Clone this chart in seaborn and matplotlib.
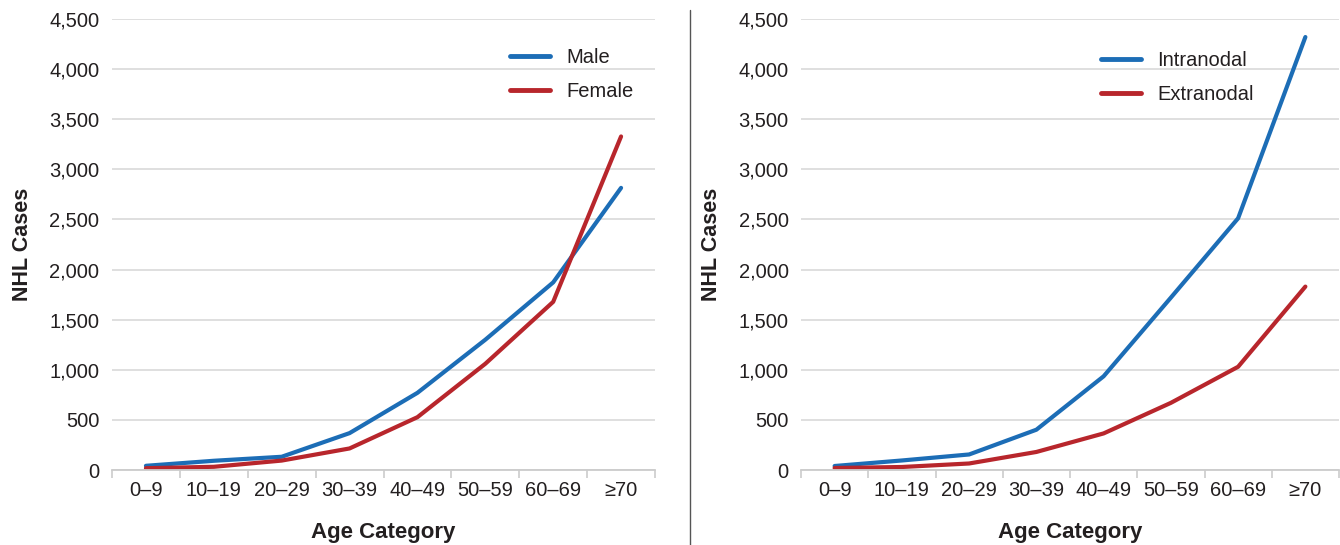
import pandas as pd
import seaborn as sns
import matplotlib.pyplot as plt
from matplotlib.ticker import FuncFormatter, FixedLocator

# data
ages = ["0\u20139", "10\u201319", "20\u201329", "30\u201339", "40\u201349", "50\u201359", "60\u201369", "\u226570"]
male = [42, 92, 132, 368, 770, 1300, 1872, 2815]
female = [18, 32, 94, 215, 527, 1060, 1678, 3328]
intranodal = [40, 95, 155, 402, 935, 1720, 2512, 4320]
extranodal = [20, 30, 65, 180, 365, 670, 1030, 1830]

blue = "#1c6db6"
red = "#b8262c"

sns.set_theme(style="white")
plt.rcParams["font.family"] = ["Liberation Sans", "DejaVu Sans"]


def long_df(names, series):
    rows = []
    for name, vals in zip(names, series):
        for a, v in zip(ages, vals):
            rows.append({"Age": a, "Cases": v, "Group": name})
    return pd.DataFrame(rows)


fig = plt.figure(figsize=(13.4, 5.45), dpi=100)
ax1 = fig.add_axes([112 / 1340, 1 - 470 / 545, 543 / 1340, 451 / 545])
ax2 = fig.add_axes([801 / 1340, 1 - 470 / 545, 538 / 1340, 451 / 545])

panels = [
    (ax1, long_df(["Male", "Female"], [male, female]), (0.733, 0.935)),
    (ax2, long_df(["Intranodal", "Extranodal"], [intranodal, extranodal]), (0.558, 0.93)),
]

for ax, df, loc in panels:
    sns.lineplot(data=df, x="Age", y="Cases", hue="Group",
                 palette=[blue, red], linewidth=3, ax=ax,
                 sort=False, solid_capstyle="round")
    ax.set_xlim(-0.5, 7.5)
    ax.set_ylim(0, 4500)
    ax.set_yticks(range(0, 4501, 500))
    ax.yaxis.set_major_formatter(FuncFormatter(lambda v, p: f"{int(v):,}"))
    ax.yaxis.grid(True, color="#dcdcdc", linewidth=1.3)
    ax.set_axisbelow(True)
    for s in ["top", "right", "left"]:
        ax.spines[s].set_visible(False)
    ax.spines["bottom"].set_color("#cccccc")
    ax.spines["bottom"].set_linewidth(1.3)
    ax.set_xticks(range(len(ages)))
    ax.set_xticklabels(ages)
    ax.xaxis.set_minor_locator(FixedLocator([i - 0.5 for i in range(len(ages) + 1)]))
    ax.tick_params(axis="x", which="major", length=0, pad=8,
                   labelsize=14.5, labelcolor="#231f20")
    ax.tick_params(axis="x", which="minor", bottom=True, length=6,
                   width=1.2, color="#cccccc")
    ax.tick_params(axis="y", length=0, pad=9, labelsize=14.5, labelcolor="#231f20")
    ax.set_xlabel("Age Category", fontsize=16, fontweight="bold",
                  color="#231f20", labelpad=16)
    ax.set_ylabel("NHL Cases", fontsize=15.5, fontweight="bold",
                  color="#231f20", labelpad=12)
    leg = ax.legend(loc="upper left", bbox_to_anchor=loc, frameon=False,
                    fontsize=14.5, handlelength=2.0, handletextpad=0.8,
                    labelspacing=0.75, borderpad=0, borderaxespad=0, title=None)
    for t in leg.get_texts():
        t.set_color("#231f20")
    for line in leg.get_lines():
        line.set_linewidth(3.5)

# vertical divider between panels
fig.add_artist(plt.Line2D([690 / 1340, 690 / 1340], [0, 1 - 10 / 545],
                          transform=fig.transFigure, color="#555555", linewidth=1))

fig.savefig("out.png", dpi=100)
